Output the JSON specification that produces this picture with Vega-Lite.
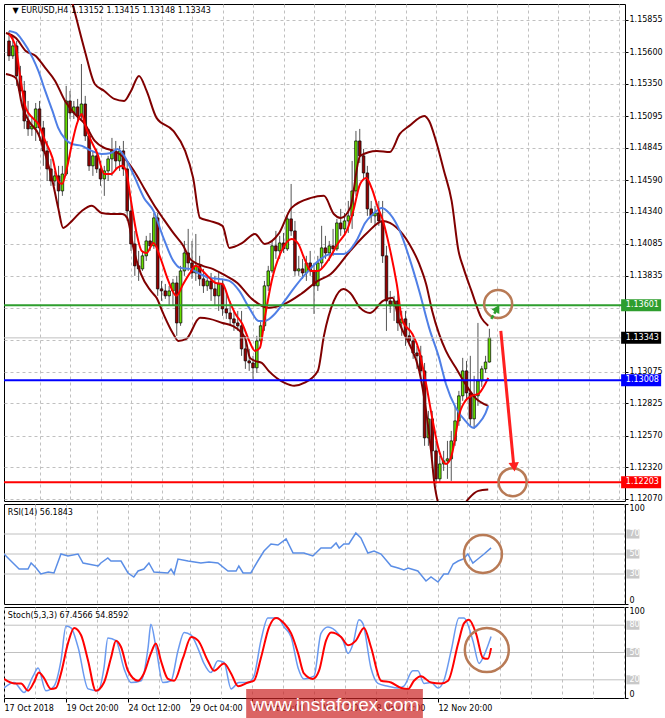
{
"$schema": "https://vega.github.io/schema/vega-lite/v6.json",
"background": "white",
"padding": {"left": 3, "top": 3, "right": 0, "bottom": 0},
"bounds": "flush",
"spacing": 3,
"resolve": {"scale": {"x": "independent", "y": "independent"}},
"config": {
  "view": {"stroke": "#000000", "strokeWidth": 1},
  "axis": {"labelFont": "DejaVu Sans", "labelFontSize": 8, "labelColor": "#000000", "domain": false, "labelOverlap": false, "gridColor": "#c0c0c0", "gridDash": [3, 3], "gridWidth": 1, "tickColor": "#000000"},
  "text": {"font": "DejaVu Sans"}
},
"datasets": {
"candles": [
{"i":0,"o":1.15689,"h":1.15768,"l":1.15531,"c":1.15571},
{"i":1,"o":1.15571,"h":1.15729,"l":1.15547,"c":1.15650},
{"i":2,"o":1.15650,"h":1.15689,"l":1.15334,"c":1.15413},
{"i":3,"o":1.15413,"h":1.15492,"l":1.15215,"c":1.15294},
{"i":4,"o":1.15294,"h":1.15373,"l":1.14994,"c":1.15057},
{"i":5,"o":1.15057,"h":1.15215,"l":1.14939,"c":1.14994},
{"i":6,"o":1.14994,"h":1.15097,"l":1.14939,"c":1.15018},
{"i":7,"o":1.15002,"h":1.15199,"l":1.14899,"c":1.15152},
{"i":8,"o":1.15152,"h":1.15215,"l":1.14899,"c":1.15002},
{"i":9,"o":1.15002,"h":1.15057,"l":1.14702,"c":1.14820},
{"i":10,"o":1.14820,"h":1.14899,"l":1.14583,"c":1.14678},
{"i":11,"o":1.14678,"h":1.14757,"l":1.14544,"c":1.14583},
{"i":12,"o":1.14583,"h":1.14662,"l":1.14544,"c":1.14623},
{"i":13,"o":1.14623,"h":1.14702,"l":1.14346,"c":1.14504},
{"i":14,"o":1.14504,"h":1.14702,"l":1.14465,"c":1.14638},
{"i":15,"o":1.14638,"h":1.15334,"l":1.14623,"c":1.15215},
{"i":16,"o":1.15215,"h":1.15294,"l":1.15073,"c":1.15120},
{"i":17,"o":1.15120,"h":1.15215,"l":1.15073,"c":1.15168},
{"i":18,"o":1.15168,"h":1.15231,"l":1.15057,"c":1.15097},
{"i":19,"o":1.15097,"h":1.15507,"l":1.15073,"c":1.15191},
{"i":20,"o":1.15191,"h":1.15255,"l":1.14899,"c":1.14939},
{"i":21,"o":1.14939,"h":1.14994,"l":1.14662,"c":1.14702},
{"i":22,"o":1.14702,"h":1.14820,"l":1.14623,"c":1.14781},
{"i":23,"o":1.14781,"h":1.14836,"l":1.14646,"c":1.14678},
{"i":24,"o":1.14678,"h":1.14741,"l":1.14544,"c":1.14599},
{"i":25,"o":1.14599,"h":1.14702,"l":1.14465,"c":1.14662},
{"i":26,"o":1.14662,"h":1.14781,"l":1.14583,"c":1.14757},
{"i":27,"o":1.14757,"h":1.14923,"l":1.14623,"c":1.14820},
{"i":28,"o":1.14820,"h":1.14899,"l":1.14678,"c":1.14741},
{"i":29,"o":1.14741,"h":1.14860,"l":1.14662,"c":1.14820},
{"i":30,"o":1.14820,"h":1.14899,"l":1.14623,"c":1.14678},
{"i":31,"o":1.14678,"h":1.14741,"l":1.14267,"c":1.14346},
{"i":32,"o":1.14346,"h":1.14425,"l":1.14030,"c":1.14085},
{"i":33,"o":1.14085,"h":1.14188,"l":1.13833,"c":1.13912},
{"i":34,"o":1.13912,"h":1.14030,"l":1.13793,"c":1.13888},
{"i":35,"o":1.13888,"h":1.14030,"l":1.13872,"c":1.13991},
{"i":36,"o":1.13991,"h":1.14149,"l":1.13951,"c":1.14109},
{"i":37,"o":1.14109,"h":1.14172,"l":1.14030,"c":1.14070},
{"i":38,"o":1.14070,"h":1.14330,"l":1.14046,"c":1.14291},
{"i":39,"o":1.14291,"h":1.14330,"l":1.13675,"c":1.13730},
{"i":40,"o":1.13730,"h":1.13793,"l":1.13635,"c":1.13714},
{"i":41,"o":1.13714,"h":1.13769,"l":1.13651,"c":1.13675},
{"i":42,"o":1.13675,"h":1.13754,"l":1.13596,"c":1.13714},
{"i":43,"o":1.13714,"h":1.13809,"l":1.13596,"c":1.13777},
{"i":44,"o":1.13777,"h":1.13833,"l":1.13359,"c":1.13461},
{"i":45,"o":1.13461,"h":1.13912,"l":1.13438,"c":1.13872},
{"i":46,"o":1.13872,"h":1.14109,"l":1.13833,"c":1.14014},
{"i":47,"o":1.14014,"h":1.14204,"l":1.13872,"c":1.13935},
{"i":48,"o":1.13935,"h":1.14109,"l":1.13809,"c":1.13856},
{"i":49,"o":1.13856,"h":1.14164,"l":1.13793,"c":1.13912},
{"i":50,"o":1.13912,"h":1.13991,"l":1.13754,"c":1.13809},
{"i":51,"o":1.13809,"h":1.13888,"l":1.13698,"c":1.13754},
{"i":52,"o":1.13754,"h":1.13833,"l":1.13714,"c":1.13793},
{"i":53,"o":1.13793,"h":1.13856,"l":1.13635,"c":1.13730},
{"i":54,"o":1.13730,"h":1.13833,"l":1.13596,"c":1.13675},
{"i":55,"o":1.13675,"h":1.13872,"l":1.13556,"c":1.13769},
{"i":56,"o":1.13769,"h":1.13809,"l":1.13517,"c":1.13572},
{"i":57,"o":1.13572,"h":1.13714,"l":1.13493,"c":1.13540},
{"i":58,"o":1.13540,"h":1.13635,"l":1.13438,"c":1.13493},
{"i":59,"o":1.13493,"h":1.13556,"l":1.13398,"c":1.13461},
{"i":60,"o":1.13461,"h":1.13556,"l":1.13398,"c":1.13438},
{"i":61,"o":1.13438,"h":1.13556,"l":1.13201,"c":1.13256},
{"i":62,"o":1.13256,"h":1.13359,"l":1.13098,"c":1.13161},
{"i":63,"o":1.13161,"h":1.13256,"l":1.13082,"c":1.13145},
{"i":64,"o":1.13145,"h":1.13201,"l":1.13019,"c":1.13106},
{"i":65,"o":1.13106,"h":1.13359,"l":1.13066,"c":1.13319},
{"i":66,"o":1.13319,"h":1.13477,"l":1.13280,"c":1.13438},
{"i":67,"o":1.13438,"h":1.13793,"l":1.13398,"c":1.13754},
{"i":68,"o":1.13754,"h":1.13912,"l":1.13714,"c":1.13872},
{"i":69,"o":1.13872,"h":1.14109,"l":1.13856,"c":1.14070},
{"i":70,"o":1.14070,"h":1.14188,"l":1.13967,"c":1.14030},
{"i":71,"o":1.14030,"h":1.14149,"l":1.13967,"c":1.14093},
{"i":72,"o":1.14093,"h":1.14172,"l":1.14014,"c":1.14046},
{"i":73,"o":1.14046,"h":1.14307,"l":1.14030,"c":1.14283},
{"i":74,"o":1.14283,"h":1.14559,"l":1.14149,"c":1.14188},
{"i":75,"o":1.14188,"h":1.14267,"l":1.13833,"c":1.13872},
{"i":76,"o":1.13872,"h":1.13991,"l":1.13833,"c":1.13888},
{"i":77,"o":1.13888,"h":1.13967,"l":1.13809,"c":1.13856},
{"i":78,"o":1.13856,"h":1.13991,"l":1.13793,"c":1.13935},
{"i":79,"o":1.13935,"h":1.14030,"l":1.13833,"c":1.13872},
{"i":80,"o":1.13872,"h":1.13935,"l":1.13532,"c":1.13754},
{"i":81,"o":1.13754,"h":1.13991,"l":1.13714,"c":1.13935},
{"i":82,"o":1.13935,"h":1.14228,"l":1.13888,"c":1.14054},
{"i":83,"o":1.14054,"h":1.14149,"l":1.13967,"c":1.14014},
{"i":84,"o":1.14014,"h":1.14109,"l":1.13951,"c":1.14070},
{"i":85,"o":1.14070,"h":1.14204,"l":1.13991,"c":1.14046},
{"i":86,"o":1.14046,"h":1.14283,"l":1.14030,"c":1.14251},
{"i":87,"o":1.14251,"h":1.14362,"l":1.14149,"c":1.14204},
{"i":88,"o":1.14204,"h":1.14330,"l":1.14149,"c":1.14267},
{"i":89,"o":1.14267,"h":1.14425,"l":1.14172,"c":1.14307},
{"i":90,"o":1.14307,"h":1.14741,"l":1.14204,"c":1.14504},
{"i":91,"o":1.14504,"h":1.14978,"l":1.14465,"c":1.14899},
{"i":92,"o":1.14899,"h":1.14994,"l":1.14725,"c":1.14781},
{"i":93,"o":1.14781,"h":1.14836,"l":1.14599,"c":1.14646},
{"i":94,"o":1.14646,"h":1.14702,"l":1.14307,"c":1.14362},
{"i":95,"o":1.14362,"h":1.14425,"l":1.14251,"c":1.14307},
{"i":96,"o":1.14307,"h":1.14386,"l":1.14228,"c":1.14330},
{"i":97,"o":1.14330,"h":1.14425,"l":1.14228,"c":1.14267},
{"i":98,"o":1.14267,"h":1.14425,"l":1.13935,"c":1.13991},
{"i":99,"o":1.13991,"h":1.14070,"l":1.13398,"c":1.13635},
{"i":100,"o":1.13635,"h":1.13714,"l":1.13540,"c":1.13596},
{"i":101,"o":1.13596,"h":1.13675,"l":1.13477,"c":1.13635},
{"i":102,"o":1.13635,"h":1.13714,"l":1.13398,"c":1.13461},
{"i":103,"o":1.13461,"h":1.13556,"l":1.13359,"c":1.13493},
{"i":104,"o":1.13493,"h":1.13556,"l":1.13280,"c":1.13359},
{"i":105,"o":1.13359,"h":1.13461,"l":1.13280,"c":1.13319},
{"i":106,"o":1.13319,"h":1.13359,"l":1.13177,"c":1.13224},
{"i":107,"o":1.13224,"h":1.13280,"l":1.13098,"c":1.13201},
{"i":108,"o":1.13201,"h":1.13280,"l":1.13019,"c":1.13082},
{"i":109,"o":1.13082,"h":1.13145,"l":1.12490,"c":1.12553},
{"i":110,"o":1.12553,"h":1.12766,"l":1.12490,"c":1.12703},
{"i":111,"o":1.12703,"h":1.12766,"l":1.12387,"c":1.12450},
{"i":112,"o":1.12450,"h":1.12529,"l":1.12189,"c":1.12229},
{"i":113,"o":1.12229,"h":1.12411,"l":1.12197,"c":1.12347},
{"i":114,"o":1.12347,"h":1.12450,"l":1.12292,"c":1.12371},
{"i":115,"o":1.12371,"h":1.12529,"l":1.12229,"c":1.12387},
{"i":116,"o":1.12387,"h":1.12608,"l":1.12213,"c":1.12529},
{"i":117,"o":1.12529,"h":1.12806,"l":1.12490,"c":1.12687},
{"i":118,"o":1.12687,"h":1.12924,"l":1.12648,"c":1.12885},
{"i":119,"o":1.12885,"h":1.13185,"l":1.12845,"c":1.13082},
{"i":120,"o":1.13082,"h":1.13161,"l":1.12861,"c":1.12908},
{"i":121,"o":1.12908,"h":1.13201,"l":1.12648,"c":1.12703},
{"i":122,"o":1.12703,"h":1.13043,"l":1.12624,"c":1.12885},
{"i":123,"o":1.12885,"h":1.13461,"l":1.12806,"c":1.13003},
{"i":124,"o":1.13003,"h":1.13122,"l":1.12956,"c":1.13098},
{"i":125,"o":1.13098,"h":1.13201,"l":1.13066,"c":1.13152},
{"i":126,"o":1.13152,"h":1.13415,"l":1.13148,"c":1.13343}
],
"lines": [
{"s":"upper","i":13.4,"p":1.16361},{"s":"upper","i":16.5,"p":1.16005},{"s":"upper","i":19.9,"p":1.1561},{"s":"upper","i":22.5,"p":1.15349},{"s":"upper","i":25.0,"p":1.15294},{"s":"upper","i":27.6,"p":1.15231},{"s":"upper","i":30.2,"p":1.15215},{"s":"upper","i":32.0,"p":1.15294},{"s":"upper","i":34.1,"p":1.15413},{"s":"upper","i":36.1,"p":1.15294},{"s":"upper","i":38.7,"p":1.15081},{"s":"upper","i":43.1,"p":1.14978},{"s":"upper","i":46.2,"p":1.1482},{"s":"upper","i":48.3,"p":1.14607},{"s":"upper","i":50.1,"p":1.14291},{"s":"upper","i":52.6,"p":1.14267},{"s":"upper","i":56.0,"p":1.14228},{"s":"upper","i":57.8,"p":1.14054},{"s":"upper","i":61.2,"p":1.14093},{"s":"upper","i":64.5,"p":1.14164},{"s":"upper","i":67.1,"p":1.14085},{"s":"upper","i":70.7,"p":1.14164},{"s":"upper","i":74.1,"p":1.1437},{"s":"upper","i":79.2,"p":1.14449},{"s":"upper","i":82.6,"p":1.14465},{"s":"upper","i":85.2,"p":1.14322},{"s":"upper","i":87.0,"p":1.14291},{"s":"upper","i":89.5,"p":1.1437},{"s":"upper","i":92.1,"p":1.14781},{"s":"upper","i":96.5,"p":1.1482},{"s":"upper","i":99.9,"p":1.14812},{"s":"upper","i":102.5,"p":1.14954},{"s":"upper","i":105.0,"p":1.15018},{"s":"upper","i":108.9,"p":1.15097},{"s":"upper","i":110.2,"p":1.15057},{"s":"upper","i":112.0,"p":1.14899},{"s":"upper","i":114.1,"p":1.14662},{"s":"upper","i":116.1,"p":1.14425},{"s":"upper","i":117.9,"p":1.1403},{"s":"upper","i":119.2,"p":1.13896},{"s":"upper","i":121.3,"p":1.13714},{"s":"upper","i":123.9,"p":1.13501},{"s":"upper","i":125.7,"p":1.13438},
{"s":"middle","i":-0.8,"p":1.15752},{"s":"middle","i":1.8,"p":1.15713},{"s":"middle","i":4.4,"p":1.1561},{"s":"middle","i":7.0,"p":1.15571},{"s":"middle","i":9.5,"p":1.15476},{"s":"middle","i":12.1,"p":1.15373},{"s":"middle","i":14.7,"p":1.15215},{"s":"middle","i":17.3,"p":1.15112},{"s":"middle","i":19.9,"p":1.15033},{"s":"middle","i":22.5,"p":1.14899},{"s":"middle","i":25.0,"p":1.14844},{"s":"middle","i":27.6,"p":1.1482},{"s":"middle","i":30.2,"p":1.14765},{"s":"middle","i":32.8,"p":1.14662},{"s":"middle","i":35.4,"p":1.14528},{"s":"middle","i":38.7,"p":1.14362},{"s":"middle","i":40.5,"p":1.14283},{"s":"middle","i":43.1,"p":1.14172},{"s":"middle","i":45.7,"p":1.1407},{"s":"middle","i":47.5,"p":1.13967},{"s":"middle","i":50.8,"p":1.13912},{"s":"middle","i":53.4,"p":1.13888},{"s":"middle","i":56.0,"p":1.13848},{"s":"middle","i":59.9,"p":1.13777},{"s":"middle","i":63.7,"p":1.13651},{"s":"middle","i":68.1,"p":1.1358},{"s":"middle","i":72.3,"p":1.13611},{"s":"middle","i":76.6,"p":1.1369},{"s":"middle","i":81.0,"p":1.13793},{"s":"middle","i":84.4,"p":1.13848},{"s":"middle","i":89.5,"p":1.1403},{"s":"middle","i":93.9,"p":1.14172},{"s":"middle","i":98.1,"p":1.14267},{"s":"middle","i":99.9,"p":1.14251},{"s":"middle","i":103.2,"p":1.14164},{"s":"middle","i":105.0,"p":1.14085},{"s":"middle","i":107.6,"p":1.13927},{"s":"middle","i":109.4,"p":1.13769},{"s":"middle","i":111.0,"p":1.13556},{"s":"middle","i":112.8,"p":1.13374},{"s":"middle","i":114.6,"p":1.1324},{"s":"middle","i":117.2,"p":1.13106},{"s":"middle","i":119.7,"p":1.12979},{"s":"middle","i":122.3,"p":1.12869},{"s":"middle","i":125.7,"p":1.12806},
{"s":"lower","i":-0.8,"p":1.15428},{"s":"lower","i":1.8,"p":1.15397},{"s":"lower","i":3.6,"p":1.1516},{"s":"lower","i":5.2,"p":1.15057},{"s":"lower","i":7.7,"p":1.14954},{"s":"lower","i":9.5,"p":1.14796},{"s":"lower","i":11.4,"p":1.14583},{"s":"lower","i":12.9,"p":1.1437},{"s":"lower","i":14.2,"p":1.14212},{"s":"lower","i":16.5,"p":1.14267},{"s":"lower","i":19.1,"p":1.14346},{"s":"lower","i":21.7,"p":1.14386},{"s":"lower","i":24.3,"p":1.1433},{"s":"lower","i":26.8,"p":1.14322},{"s":"lower","i":29.7,"p":1.14322},{"s":"lower","i":31.0,"p":1.14291},{"s":"lower","i":32.8,"p":1.1403},{"s":"lower","i":34.6,"p":1.13848},{"s":"lower","i":37.2,"p":1.13714},{"s":"lower","i":38.7,"p":1.13659},{"s":"lower","i":40.5,"p":1.13532},{"s":"lower","i":43.1,"p":1.13374},{"s":"lower","i":44.4,"p":1.13319},{"s":"lower","i":46.5,"p":1.13335},{"s":"lower","i":50.1,"p":1.13501},{"s":"lower","i":52.6,"p":1.13493},{"s":"lower","i":56.0,"p":1.13461},{"s":"lower","i":58.6,"p":1.13438},{"s":"lower","i":61.9,"p":1.13343},{"s":"lower","i":63.2,"p":1.13185},{"s":"lower","i":64.5,"p":1.13161},{"s":"lower","i":66.3,"p":1.13145},{"s":"lower","i":68.1,"p":1.13082},{"s":"lower","i":72.3,"p":1.12987},{"s":"lower","i":74.8,"p":1.12964},{"s":"lower","i":77.4,"p":1.12987},{"s":"lower","i":81.0,"p":1.13082},{"s":"lower","i":82.6,"p":1.13359},{"s":"lower","i":85.2,"p":1.13635},{"s":"lower","i":87.7,"p":1.1373},{"s":"lower","i":89.5,"p":1.13698},{"s":"lower","i":92.1,"p":1.1358},{"s":"lower","i":94.7,"p":1.1354},{"s":"lower","i":98.1,"p":1.13635},{"s":"lower","i":100.6,"p":1.13659},{"s":"lower","i":102.5,"p":1.13453},{"s":"lower","i":105.0,"p":1.13295},{"s":"lower","i":107.6,"p":1.13082},{"s":"lower","i":109.4,"p":1.12766},{"s":"lower","i":110.7,"p":1.1245},{"s":"lower","i":111.5,"p":1.12213},{"s":"lower","i":112.8,"p":1.12016},{"s":"lower","i":115.4,"p":1.11897},{"s":"lower","i":117.9,"p":1.1196},{"s":"lower","i":120.5,"p":1.12071},{"s":"lower","i":123.1,"p":1.12134},{"s":"lower","i":125.7,"p":1.12145},
{"s":"blue","i":0,"p":1.15768},{"s":"blue","i":1.8,"p":1.15752},{"s":"blue","i":3.6,"p":1.15689},{"s":"blue","i":6.2,"p":1.15555},{"s":"blue","i":7.7,"p":1.15452},{"s":"blue","i":9.5,"p":1.15294},{"s":"blue","i":11.4,"p":1.15136},{"s":"blue","i":12.9,"p":1.15002},{"s":"blue","i":14.7,"p":1.14915},{"s":"blue","i":16.5,"p":1.14875},{"s":"blue","i":19.1,"p":1.1486},{"s":"blue","i":21.7,"p":1.1482},{"s":"blue","i":24.3,"p":1.14796},{"s":"blue","i":26.8,"p":1.14804},{"s":"blue","i":28.4,"p":1.14836},{"s":"blue","i":30.2,"p":1.14781},{"s":"blue","i":32.8,"p":1.14623},{"s":"blue","i":35.4,"p":1.14449},{"s":"blue","i":37.9,"p":1.14346},{"s":"blue","i":40.5,"p":1.14133},{"s":"blue","i":43.1,"p":1.13951},{"s":"blue","i":44.9,"p":1.13896},{"s":"blue","i":47.5,"p":1.13888},{"s":"blue","i":50.1,"p":1.13848},{"s":"blue","i":52.6,"p":1.13817},{"s":"blue","i":55.2,"p":1.13809},{"s":"blue","i":57.8,"p":1.13793},{"s":"blue","i":60.4,"p":1.13714},{"s":"blue","i":63.0,"p":1.1358},{"s":"blue","i":65.5,"p":1.13477},{"s":"blue","i":67.1,"p":1.13477},{"s":"blue","i":69.7,"p":1.13532},{"s":"blue","i":72.3,"p":1.13635},{"s":"blue","i":74.8,"p":1.13738},{"s":"blue","i":78.5,"p":1.13872},{"s":"blue","i":81.8,"p":1.13967},{"s":"blue","i":84.4,"p":1.14006},{"s":"blue","i":87.7,"p":1.14006},{"s":"blue","i":91.4,"p":1.14125},{"s":"blue","i":93.4,"p":1.14251},{"s":"blue","i":95.5,"p":1.14322},{"s":"blue","i":97.8,"p":1.1437},{"s":"blue","i":99.9,"p":1.14322},{"s":"blue","i":102.5,"p":1.14188},{"s":"blue","i":105.0,"p":1.13975},{"s":"blue","i":107.6,"p":1.13714},{"s":"blue","i":110.2,"p":1.13422},{"s":"blue","i":112.8,"p":1.13185},{"s":"blue","i":114.6,"p":1.12979},{"s":"blue","i":117.2,"p":1.1279},{"s":"blue","i":119.7,"p":1.12687},{"s":"blue","i":121.8,"p":1.12632},{"s":"blue","i":123.1,"p":1.12663},{"s":"blue","i":124.9,"p":1.12742},{"s":"blue","i":125.7,"p":1.12806},
{"s":"red","i":0,"p":1.15744},{"s":"red","i":1.8,"p":1.15634},{"s":"red","i":3.1,"p":1.15373},{"s":"red","i":4.4,"p":1.1516},{"s":"red","i":6.2,"p":1.15081},{"s":"red","i":7.7,"p":1.15033},{"s":"red","i":9.5,"p":1.14899},{"s":"red","i":11.4,"p":1.14765},{"s":"red","i":12.9,"p":1.14583},{"s":"red","i":13.9,"p":1.14559},{"s":"red","i":15.2,"p":1.14686},{"s":"red","i":16.5,"p":1.14875},{"s":"red","i":17.8,"p":1.15033},{"s":"red","i":19.1,"p":1.15112},{"s":"red","i":19.9,"p":1.15033},{"s":"red","i":21.2,"p":1.14923},{"s":"red","i":23.2,"p":1.14796},{"s":"red","i":25.0,"p":1.14638},{"s":"red","i":26.8,"p":1.14638},{"s":"red","i":28.4,"p":1.14686},{"s":"red","i":29.7,"p":1.14702},{"s":"red","i":30.7,"p":1.14662},{"s":"red","i":32.0,"p":1.14425},{"s":"red","i":33.5,"p":1.14164},{"s":"red","i":34.8,"p":1.1403},{"s":"red","i":36.1,"p":1.14014},{"s":"red","i":37.9,"p":1.14093},{"s":"red","i":39.7,"p":1.13975},{"s":"red","i":41.8,"p":1.13793},{"s":"red","i":43.9,"p":1.13675},{"s":"red","i":45.7,"p":1.13769},{"s":"red","i":47.5,"p":1.13856},{"s":"red","i":49.0,"p":1.13912},{"s":"red","i":50.8,"p":1.13872},{"s":"red","i":52.6,"p":1.13817},{"s":"red","i":54.2,"p":1.13777},{"s":"red","i":56.0,"p":1.13769},{"s":"red","i":57.8,"p":1.13635},{"s":"red","i":59.4,"p":1.13532},{"s":"red","i":61.2,"p":1.13453},{"s":"red","i":63.0,"p":1.13319},{"s":"red","i":64.5,"p":1.1324},{"s":"red","i":65.8,"p":1.13264},{"s":"red","i":67.1,"p":1.13501},{"s":"red","i":68.9,"p":1.13793},{"s":"red","i":71.5,"p":1.1403},{"s":"red","i":74.1,"p":1.14125},{"s":"red","i":75.9,"p":1.14085},{"s":"red","i":77.4,"p":1.13975},{"s":"red","i":79.2,"p":1.13872},{"s":"red","i":81.0,"p":1.13872},{"s":"red","i":83.6,"p":1.13951},{"s":"red","i":86.2,"p":1.14085},{"s":"red","i":88.8,"p":1.14204},{"s":"red","i":90.3,"p":1.14346},{"s":"red","i":92.1,"p":1.14559},{"s":"red","i":93.7,"p":1.14607},{"s":"red","i":95.2,"p":1.1452},{"s":"red","i":96.8,"p":1.1437},{"s":"red","i":98.1,"p":1.14267},{"s":"red","i":99.9,"p":1.14046},{"s":"red","i":101.7,"p":1.13769},{"s":"red","i":103.2,"p":1.13477},{"s":"red","i":105.8,"p":1.13374},{"s":"red","i":107.6,"p":1.1324},{"s":"red","i":109.4,"p":1.12979},{"s":"red","i":111.0,"p":1.12711},{"s":"red","i":112.8,"p":1.1245},{"s":"red","i":114.6,"p":1.12347},{"s":"red","i":115.9,"p":1.12395},{"s":"red","i":117.2,"p":1.12584},{"s":"red","i":117.9,"p":1.12711},{"s":"red","i":119.7,"p":1.12845},{"s":"red","i":121.3,"p":1.12885},{"s":"red","i":123.1,"p":1.129},{"s":"red","i":124.9,"p":1.12979},{"s":"red","i":125.7,"p":1.13027}
],
"levels": [
{"name":"bid","p":1.13343},{"name":"res","p":1.13601},{"name":"piv","p":1.13008},{"name":"sup","p":1.12203}
],
"rsi": [
{"i":0,"v":50},{"i":1.8,"v":43},{"i":3.9,"v":35},{"i":6.2,"v":35},{"i":7.0,"v":41},{"i":8.3,"v":36},{"i":9.5,"v":30},{"i":11.4,"v":32},{"i":12.9,"v":31},{"i":14.7,"v":50},{"i":16.5,"v":48},{"i":19.1,"v":50},{"i":20.4,"v":41},{"i":21.7,"v":40},{"i":24.3,"v":38},{"i":25.0,"v":41},{"i":26.8,"v":46},{"i":27.6,"v":43},{"i":30.2,"v":43},{"i":32.0,"v":31},{"i":33.5,"v":27},{"i":34.6,"v":33},{"i":36.1,"v":35},{"i":37.4,"v":41},{"i":38.7,"v":32},{"i":42.3,"v":31},{"i":43.1,"v":35},{"i":43.9,"v":30},{"i":44.9,"v":45},{"i":47.5,"v":43},{"i":50.8,"v":41},{"i":52.9,"v":42},{"i":55.2,"v":41},{"i":57.8,"v":33},{"i":59.9,"v":33},{"i":60.6,"v":38},{"i":61.7,"v":31},{"i":63.7,"v":31},{"i":65.5,"v":43},{"i":67.1,"v":53},{"i":68.9,"v":60},{"i":70.7,"v":59},{"i":72.8,"v":65},{"i":74.6,"v":51},{"i":77.4,"v":51},{"i":79.7,"v":48},{"i":81.8,"v":56},{"i":84.4,"v":56},{"i":85.7,"v":61},{"i":86.5,"v":56},{"i":87.7,"v":60},{"i":89.0,"v":60},{"i":90.8,"v":71},{"i":92.1,"v":66},{"i":93.9,"v":51},{"i":95.5,"v":53},{"i":97.3,"v":50},{"i":99.9,"v":38},{"i":101.7,"v":36},{"i":103.2,"v":34},{"i":104.3,"v":36},{"i":106.8,"v":33},{"i":108.9,"v":23},{"i":110.2,"v":27},{"i":112.0,"v":22},{"i":113.5,"v":30},{"i":114.6,"v":30},{"i":115.9,"v":40},{"i":117.2,"v":43},{"i":118.5,"v":45},{"i":119.7,"v":50},{"i":121.0,"v":41},{"i":122.3,"v":45},{"i":123.9,"v":50},{"i":125.7,"v":56.18}
],
"stoch": [
{"s":"K","i":0,"v":11},{"s":"K","i":2.6,"v":17},{"s":"K","i":5.2,"v":6},{"s":"K","i":7.5,"v":24},{"s":"K","i":8.8,"v":33},{"s":"K","i":10.8,"v":8},{"s":"K","i":12.9,"v":13},{"s":"K","i":14.7,"v":41},{"s":"K","i":16.0,"v":79},{"s":"K","i":17.3,"v":77},{"s":"K","i":19.1,"v":56},{"s":"K","i":21.7,"v":10},{"s":"K","i":24.3,"v":8},{"s":"K","i":25.8,"v":33},{"s":"K","i":26.8,"v":66},{"s":"K","i":28.9,"v":63},{"s":"K","i":31.0,"v":32},{"s":"K","i":32.8,"v":17},{"s":"K","i":35.4,"v":19},{"s":"K","i":37.2,"v":56},{"s":"K","i":37.9,"v":81},{"s":"K","i":39.2,"v":56},{"s":"K","i":41.0,"v":17},{"s":"K","i":43.1,"v":19},{"s":"K","i":44.9,"v":52},{"s":"K","i":46.5,"v":72},{"s":"K","i":48.3,"v":69},{"s":"K","i":50.1,"v":54},{"s":"K","i":51.6,"v":38},{"s":"K","i":53.4,"v":28},{"s":"K","i":55.2,"v":41},{"s":"K","i":56.8,"v":39},{"s":"K","i":58.6,"v":10},{"s":"K","i":60.6,"v":17},{"s":"K","i":63.0,"v":17},{"s":"K","i":64.5,"v":24},{"s":"K","i":66.3,"v":63},{"s":"K","i":68.1,"v":88},{"s":"K","i":70.7,"v":88},{"s":"K","i":72.3,"v":78},{"s":"K","i":74.1,"v":67},{"s":"K","i":75.9,"v":33},{"s":"K","i":77.4,"v":21},{"s":"K","i":80.0,"v":24},{"s":"K","i":81.8,"v":71},{"s":"K","i":83.6,"v":78},{"s":"K","i":86.2,"v":71},{"s":"K","i":87.5,"v":63},{"s":"K","i":88.8,"v":49},{"s":"K","i":90.1,"v":60},{"s":"K","i":91.6,"v":86},{"s":"K","i":92.6,"v":82},{"s":"K","i":94.7,"v":33},{"s":"K","i":96.5,"v":16},{"s":"K","i":99.1,"v":13},{"s":"K","i":101.7,"v":11},{"s":"K","i":103.2,"v":13},{"s":"K","i":105.5,"v":30},{"s":"K","i":106.8,"v":30},{"s":"K","i":108.4,"v":16},{"s":"K","i":110.2,"v":17},{"s":"K","i":112.0,"v":11},{"s":"K","i":113.5,"v":19},{"s":"K","i":115.4,"v":52},{"s":"K","i":117.4,"v":88},{"s":"K","i":118.7,"v":88},{"s":"K","i":121.0,"v":63},{"s":"K","i":122.6,"v":38},{"s":"K","i":123.9,"v":47},{"s":"K","i":125.7,"v":67.46},
{"s":"D","i":0,"v":21},{"s":"D","i":2.6,"v":16},{"s":"D","i":4.4,"v":16},{"s":"D","i":6.2,"v":8},{"s":"D","i":7.7,"v":17},{"s":"D","i":9.0,"v":28},{"s":"D","i":10.3,"v":22},{"s":"D","i":12.1,"v":10},{"s":"D","i":13.4,"v":11},{"s":"D","i":14.7,"v":27},{"s":"D","i":16.5,"v":60},{"s":"D","i":18.1,"v":77},{"s":"D","i":19.9,"v":69},{"s":"D","i":21.7,"v":41},{"s":"D","i":23.7,"v":8},{"s":"D","i":25.8,"v":17},{"s":"D","i":27.6,"v":44},{"s":"D","i":28.9,"v":63},{"s":"D","i":30.2,"v":56},{"s":"D","i":32.0,"v":30},{"s":"D","i":34.6,"v":19},{"s":"D","i":36.1,"v":27},{"s":"D","i":37.9,"v":49},{"s":"D","i":39.2,"v":60},{"s":"D","i":40.5,"v":41},{"s":"D","i":42.3,"v":21},{"s":"D","i":43.9,"v":19},{"s":"D","i":46.2,"v":44},{"s":"D","i":48.3,"v":67},{"s":"D","i":50.1,"v":63},{"s":"D","i":52.6,"v":41},{"s":"D","i":54.2,"v":30},{"s":"D","i":56.8,"v":38},{"s":"D","i":58.6,"v":27},{"s":"D","i":60.4,"v":13},{"s":"D","i":63.0,"v":17},{"s":"D","i":64.5,"v":19},{"s":"D","i":66.3,"v":44},{"s":"D","i":68.4,"v":78},{"s":"D","i":70.2,"v":88},{"s":"D","i":72.3,"v":82},{"s":"D","i":74.1,"v":71},{"s":"D","i":75.9,"v":49},{"s":"D","i":77.4,"v":27},{"s":"D","i":79.7,"v":21},{"s":"D","i":81.3,"v":30},{"s":"D","i":83.1,"v":63},{"s":"D","i":84.4,"v":72},{"s":"D","i":87.0,"v":67},{"s":"D","i":88.8,"v":58},{"s":"D","i":90.8,"v":63},{"s":"D","i":92.9,"v":77},{"s":"D","i":94.7,"v":56},{"s":"D","i":97.3,"v":19},{"s":"D","i":99.9,"v":17},{"s":"D","i":102.5,"v":11},{"s":"D","i":104.3,"v":10},{"s":"D","i":105.8,"v":19},{"s":"D","i":107.6,"v":24},{"s":"D","i":110.2,"v":17},{"s":"D","i":112.8,"v":16},{"s":"D","i":114.6,"v":19},{"s":"D","i":117.2,"v":60},{"s":"D","i":118.7,"v":82},{"s":"D","i":120.0,"v":86},{"s":"D","i":121.8,"v":71},{"s":"D","i":123.6,"v":44},{"s":"D","i":124.9,"v":43},{"s":"D","i":125.7,"v":54.86}
]
},
"vconcat": [
{
"width": 621, "height": 497,
"layer": [
{"data": {"name": "candles"},
 "mark": {"type": "rule", "color": "#555555", "strokeWidth": 1, "clip": true},
 "encoding": {
  "x": {"field": "i", "type": "quantitative", "scale": {"domain": [0, 160.26], "nice": false, "zero": false}, "axis": {"title": null, "orient": "bottom", "values": [8,16,24,32,40,48,56,64,72,80,88,96,104,112,120,128,136,144,152,160], "tickCount": 200, "grid": true, "labels": false, "ticks": false, "labelOverlap": false}},
  "y": {"field": "l", "type": "quantitative", "scale": {"domain": [1.12054, 1.15981], "nice": false, "zero": false},
        "axis": {"title": null, "orient": "right", "values": [1.15855,1.156,1.1535,1.15095,1.14845,1.1459,1.1434,1.14085,1.13835,1.1358,1.1333,1.13075,1.12825,1.1257,1.1232,1.1207], "tickCount": 200, "grid": true, "tickSize": 3, "labelPadding": 1, "labelOverlap": false, "labelBound": false, "labelExpr": "(datum.value > 1.1355 && datum.value < 1.1360) || (datum.value > 1.1330 && datum.value < 1.1335) ? '' : format(datum.value, '.5f')"}},
  "y2": {"field": "h"}
 }},
{"data": {"name": "candles"},
 "mark": {"type": "bar", "size": 2.6, "stroke": "#000000", "strokeWidth": 0.7, "clip": true},
 "encoding": {
  "x": {"field": "i", "type": "quantitative", "scale": {"domain": [0, 160.26], "nice": false, "zero": false}},
  "y": {"field": "o", "type": "quantitative", "scale": {"domain": [1.12054, 1.15981], "nice": false, "zero": false}},
  "y2": {"field": "c"},
  "color": {"condition": {"test": "datum.c >= datum.o", "value": "#66dd00"}, "value": "#990000"}
 }},
{"data": {"name": "lines"},
 "mark": {"type": "line", "strokeWidth": 2, "interpolate": "monotone", "clip": true},
 "encoding": {
  "x": {"field": "i", "type": "quantitative", "scale": {"domain": [0, 160.26], "nice": false, "zero": false}},
  "y": {"field": "p", "type": "quantitative", "scale": {"domain": [1.12054, 1.15981], "nice": false, "zero": false}},
  "detail": {"field": "s", "type": "nominal"},
  "color": {"condition": [{"test": "datum.s == 'blue'", "value": "#4f7fe6"}, {"test": "datum.s == 'red'", "value": "#ff0000"}], "value": "#800000"}
 }},
{"data": {"name": "levels"},
 "mark": {"type": "rule", "clip": true},
 "encoding": {
  "y": {"field": "p", "type": "quantitative", "scale": {"domain": [1.12054, 1.15981], "nice": false, "zero": false}},
  "color": {"condition": [{"test": "datum.name == 'bid'", "value": "#c0c0c0"}, {"test": "datum.name == 'res'", "value": "#2e9e2e"}, {"test": "datum.name == 'piv'", "value": "#0000ff"}], "value": "#ff0000"},
  "strokeWidth": {"condition": {"test": "datum.name == 'bid'", "value": 1}, "value": 2}
 }},
{"data": {"name": "levels"},
 "mark": {"type": "point", "shape": "M-1,-0.3L1,-0.3L1,0.3L-1,0.3Z", "size": 1600, "filled": true, "opacity": 1, "strokeWidth": 0},
 "encoding": {
  "x": {"datum": 165.8, "type": "quantitative", "scale": {"domain": [0, 160.26], "nice": false, "zero": false}},
  "y": {"field": "p", "type": "quantitative", "scale": {"domain": [1.12054, 1.15981], "nice": false, "zero": false}},
  "color": {"condition": [{"test": "datum.name == 'bid'", "value": "#000000"}, {"test": "datum.name == 'res'", "value": "#2e9e2e"}, {"test": "datum.name == 'piv'", "value": "#0000ff"}], "value": "#ff0000"}
 }},
{"data": {"name": "levels"},
 "mark": {"type": "text", "align": "left", "baseline": "middle", "color": "#ffffff", "fontSize": 8, "font": "DejaVu Sans"},
 "encoding": {
  "x": {"datum": 161.8, "type": "quantitative", "scale": {"domain": [0, 160.26], "nice": false, "zero": false}},
  "y": {"field": "p", "type": "quantitative", "scale": {"domain": [1.12054, 1.15981], "nice": false, "zero": false}},
  "text": {"field": "p", "type": "quantitative", "format": ".5f"}
 }},
{"data": {"values": [{"t": "▼  EURUSD,H4  1.13152 1.13415 1.13148 1.13343"}]},
 "mark": {"type": "text", "align": "left", "baseline": "middle", "color": "#000000", "fontSize": 8, "font": "DejaVu Sans"},
 "encoding": {
  "x": {"datum": 0.9, "type": "quantitative", "scale": {"domain": [0, 160.26], "nice": false, "zero": false}},
  "y": {"datum": 1.15926, "type": "quantitative", "scale": {"domain": [1.12054, 1.15981], "nice": false, "zero": false}},
  "text": {"field": "t"}
 }},
{"data": {"values": [{"i": 128.3, "p": 1.13611}, {"i": 132.1, "p": 1.12203}]},
 "mark": {"type": "point", "shape": "circle", "filled": false, "stroke": "#b87a55", "strokeWidth": 2.5, "size": 784, "opacity": 1},
 "encoding": {
  "x": {"field": "i", "type": "quantitative", "scale": {"domain": [0, 160.26], "nice": false, "zero": false}},
  "y": {"field": "p", "type": "quantitative", "scale": {"domain": [1.12054, 1.15981], "nice": false, "zero": false}}
 }},
{"data": {"values": [{"i": 126.5, "p": 1.13493, "i2": 128.0, "p2": 1.13572}]},
 "mark": {"type": "rule", "color": "#2e9e2e", "strokeWidth": 2.5, "strokeDash": [4, 2]},
 "encoding": {
  "x": {"field": "i", "type": "quantitative", "scale": {"domain": [0, 160.26], "nice": false, "zero": false}},
  "y": {"field": "p", "type": "quantitative", "scale": {"domain": [1.12054, 1.15981], "nice": false, "zero": false}},
  "x2": {"field": "i2"}, "y2": {"field": "p2"}
 }},
{"data": {"values": [{"i": 129.0, "p": 1.13398, "i2": 132.4, "p2": 1.12331}]},
 "mark": {"type": "rule", "color": "#ff2020", "strokeWidth": 3},
 "encoding": {
  "x": {"field": "i", "type": "quantitative", "scale": {"domain": [0, 160.26], "nice": false, "zero": false}},
  "y": {"field": "p", "type": "quantitative", "scale": {"domain": [1.12054, 1.15981], "nice": false, "zero": false}},
  "x2": {"field": "i2"}, "y2": {"field": "p2"}
 }},
{"data": {"values": [{"i": 128.1, "p": 1.13576}]},
 "mark": {"type": "point", "shape": "triangle-up", "filled": true, "opacity": 1, "size": 80, "color": "#2e9e2e", "angle": 30},
 "encoding": {
  "x": {"field": "i", "type": "quantitative", "scale": {"domain": [0, 160.26], "nice": false, "zero": false}},
  "y": {"field": "p", "type": "quantitative", "scale": {"domain": [1.12054, 1.15981], "nice": false, "zero": false}}
 }},
{"data": {"values": [{"i": 132.5, "p": 1.12323}]},
 "mark": {"type": "point", "shape": "triangle-down", "filled": true, "opacity": 1, "size": 110, "color": "#ff2020", "angle": 354},
 "encoding": {
  "x": {"field": "i", "type": "quantitative", "scale": {"domain": [0, 160.26], "nice": false, "zero": false}},
  "y": {"field": "p", "type": "quantitative", "scale": {"domain": [1.12054, 1.15981], "nice": false, "zero": false}}
 }}
]
},
{
"width": 621, "height": 100,
"layer": [
{"data": {"values": [{"v": 70}, {"v": 50}, {"v": 30}]},
 "mark": {"type": "rule", "color": "#c0c0c0", "strokeWidth": 1},
 "encoding": {
  "y": {"field": "v", "type": "quantitative", "scale": {"domain": [0, 100], "nice": false, "zero": false},
        "axis": {"title": null, "orient": "right", "values": [0, 100], "format": ".0f", "grid": false, "tickSize": 3, "labelPadding": 1, "labelFlush": true, "labelFlushOffset": 0, "labelOverlap": false}}
 }},
{"data": {"name": "rsi"},
 "mark": {"type": "line", "color": "#5b8ee6", "strokeWidth": 1.5, "clip": true},
 "encoding": {
  "x": {"field": "i", "type": "quantitative", "scale": {"domain": [0, 160.26], "nice": false, "zero": false}, "axis": {"title": null, "orient": "bottom", "values": [8,16,24,32,40,48,56,64,72,80,88,96,104,112,120,128,136,144,152,160], "tickCount": 200, "grid": true, "labels": false, "ticks": false, "labelOverlap": false}},
  "y": {"field": "v", "type": "quantitative", "scale": {"domain": [0, 100], "nice": false, "zero": false}}
 }},
{"data": {"values": [{"v": 70}, {"v": 50}, {"v": 30}]},
 "mark": {"type": "point", "shape": "M-1,-0.7L1,-0.7L1,0.7L-1,0.7Z", "size": 169, "filled": true, "color": "#c8c8c8", "opacity": 1, "strokeWidth": 0},
 "encoding": {
  "x": {"datum": 162.3, "type": "quantitative", "scale": {"domain": [0, 160.26], "nice": false, "zero": false}},
  "y": {"field": "v", "type": "quantitative", "scale": {"domain": [0, 100], "nice": false, "zero": false}}
 }},
{"data": {"values": [{"v": 70}, {"v": 50}, {"v": 30}]},
 "mark": {"type": "text", "align": "left", "baseline": "middle", "color": "#ffffff", "fontSize": 8, "font": "DejaVu Sans"},
 "encoding": {
  "x": {"datum": 161.4, "type": "quantitative", "scale": {"domain": [0, 160.26], "nice": false, "zero": false}},
  "y": {"field": "v", "type": "quantitative", "scale": {"domain": [0, 100], "nice": false, "zero": false}},
  "text": {"field": "v", "type": "quantitative"}
 }},
{"data": {"values": [{"t": "RSI(14) 56.1843"}]},
 "mark": {"type": "text", "align": "left", "baseline": "middle", "color": "#000000", "fontSize": 8, "font": "DejaVu Sans"},
 "encoding": {
  "x": {"datum": 1.0, "type": "quantitative", "scale": {"domain": [0, 160.26], "nice": false, "zero": false}},
  "y": {"datum": 91, "type": "quantitative", "scale": {"domain": [0, 100], "nice": false, "zero": false}},
  "text": {"field": "t"}
 }},
{"data": {"values": [{"i": 123.6, "v": 50}]},
 "mark": {"type": "point", "shape": "circle", "filled": false, "stroke": "#b87a55", "strokeWidth": 2.5, "size": 1444, "opacity": 1},
 "encoding": {
  "x": {"field": "i", "type": "quantitative", "scale": {"domain": [0, 160.26], "nice": false, "zero": false}},
  "y": {"field": "v", "type": "quantitative", "scale": {"domain": [0, 100], "nice": false, "zero": false}}
 }}
]
},
{
"width": 621, "height": 91,
"layer": [
{"data": {"values": [{"v": 80}, {"v": 50}, {"v": 20}]},
 "mark": {"type": "rule", "color": "#c0c0c0", "strokeWidth": 1},
 "encoding": {
  "y": {"field": "v", "type": "quantitative", "scale": {"domain": [0, 100], "nice": false, "zero": false},
        "axis": {"title": null, "orient": "right", "values": [0, 100], "format": ".0f", "grid": false, "tickSize": 3, "labelPadding": 1, "labelFlush": true, "labelFlushOffset": 0, "labelOverlap": false}}
 }},
{"data": {"name": "stoch"},
 "mark": {"type": "line", "interpolate": "monotone", "clip": true},
 "encoding": {
  "x": {"field": "i", "type": "quantitative", "scale": {"domain": [0, 160.26], "nice": false, "zero": false},
        "axis": {"title": null, "orient": "bottom", "values": [0,8,16,24,32,40,48,56,64,72,80,88,96,104,112,120,128,136,144,152,160], "tickCount": 200, "grid": true, "ticks": true, "tickSize": 4, "labelPadding": 2, "labelAlign": "left", "labelFlush": false, "labelOverlap": false,
                 "tickOpacity": {"condition": {"test": "datum.value % 16 == 0 && datum.value <= 112", "value": 1}, "value": 0},
                 "labelExpr": "datum.value % 16 == 0 ? ['17 Oct 2018','19 Oct 20:00','24 Oct 12:00','29 Oct 04:00','31 Oct 20:00','5 Nov 12:00','8 Nov 04:00','12 Nov 20:00','','',''][datum.value / 16] : ''"}},
  "y": {"field": "v", "type": "quantitative", "scale": {"domain": [0, 100], "nice": false, "zero": false}},
  "detail": {"field": "s", "type": "nominal"},
  "color": {"condition": {"test": "datum.s == 'D'", "value": "#ff0000"}, "value": "#6a9af0"},
  "strokeWidth": {"condition": {"test": "datum.s == 'D'", "value": 2}, "value": 1.5}
 }},
{"data": {"values": [{"v": 80}, {"v": 50}, {"v": 20}]},
 "mark": {"type": "point", "shape": "M-1,-0.7L1,-0.7L1,0.7L-1,0.7Z", "size": 169, "filled": true, "color": "#c8c8c8", "opacity": 1, "strokeWidth": 0},
 "encoding": {
  "x": {"datum": 162.3, "type": "quantitative", "scale": {"domain": [0, 160.26], "nice": false, "zero": false}},
  "y": {"field": "v", "type": "quantitative", "scale": {"domain": [0, 100], "nice": false, "zero": false}}
 }},
{"data": {"values": [{"v": 80}, {"v": 50}, {"v": 20}]},
 "mark": {"type": "text", "align": "left", "baseline": "middle", "color": "#ffffff", "fontSize": 8, "font": "DejaVu Sans"},
 "encoding": {
  "x": {"datum": 161.4, "type": "quantitative", "scale": {"domain": [0, 160.26], "nice": false, "zero": false}},
  "y": {"field": "v", "type": "quantitative", "scale": {"domain": [0, 100], "nice": false, "zero": false}},
  "text": {"field": "v", "type": "quantitative"}
 }},
{"data": {"values": [{"t": "Stoch(5,3,3) 67.4566 54.8592"}]},
 "mark": {"type": "text", "align": "left", "baseline": "middle", "color": "#000000", "fontSize": 8, "font": "DejaVu Sans"},
 "encoding": {
  "x": {"datum": 1.0, "type": "quantitative", "scale": {"domain": [0, 160.26], "nice": false, "zero": false}},
  "y": {"datum": 90, "type": "quantitative", "scale": {"domain": [0, 100], "nice": false, "zero": false}},
  "text": {"field": "t"}
 }},
{"data": {"values": [{"i": 124.6, "v": 52.7}]},
 "mark": {"type": "point", "shape": "circle", "filled": false, "stroke": "#b87a55", "strokeWidth": 2.5, "size": 1936, "opacity": 1},
 "encoding": {
  "x": {"field": "i", "type": "quantitative", "scale": {"domain": [0, 160.26], "nice": false, "zero": false}},
  "y": {"field": "v", "type": "quantitative", "scale": {"domain": [0, 100], "nice": false, "zero": false}}
 }},
{"data": {"values": [{"t": "www.instaforex.com"}]},
 "mark": {"type": "rect", "color": "#cc2222", "opacity": 0.7},
 "encoding": {
  "x": {"datum": 62.5, "type": "quantitative", "scale": {"domain": [0, 160.26], "nice": false, "zero": false}},
  "x2": {"datum": 108.1},
  "y": {"datum": 10, "type": "quantitative", "scale": {"domain": [0, 100], "nice": false, "zero": false}},
  "y2": {"datum": -23}
 }},
{"data": {"values": [{"t": "www.instaforex.com"}]},
 "mark": {"type": "text", "align": "center", "baseline": "middle", "color": "#ffffff", "fontSize": 19, "font": "Liberation Sans"},
 "encoding": {
  "x": {"datum": 85.4, "type": "quantitative", "scale": {"domain": [0, 160.26], "nice": false, "zero": false}},
  "y": {"datum": -7.7, "type": "quantitative", "scale": {"domain": [0, 100], "nice": false, "zero": false}},
  "text": {"field": "t"}
 }}
]
}
]
}
